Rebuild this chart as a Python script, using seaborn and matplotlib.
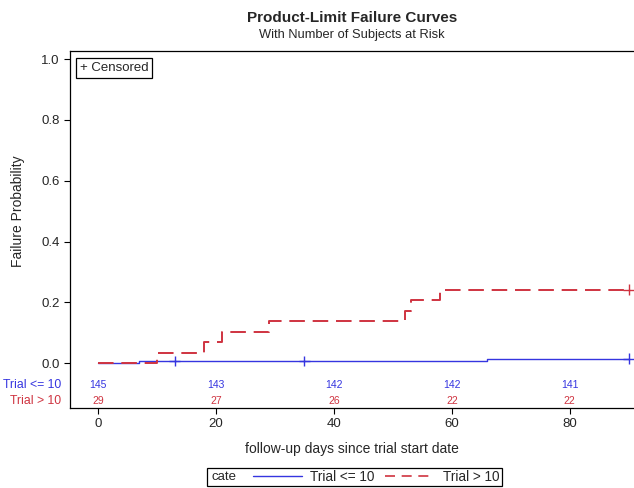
import numpy as np
import pandas as pd
import matplotlib
matplotlib.use("Agg")
import matplotlib.pyplot as plt
from matplotlib.lines import Line2D
from matplotlib.patches import Rectangle
import seaborn as sns

# ==========================================
# DATA
# ==========================================
GROUPS = ["Trial <= 10", "Trial > 10"]
COLORS = {"Trial <= 10": "#3535e0", "Trial > 10": "#cf3340"}

# kurva kegagalan (step function)
low_times = [0, 7, 66, 90]
low_fail = [0.0, 0.0069, 0.0139, 0.0139]
high_times = [0, 10, 18, 21, 29, 52, 53, 58, 90]
high_fail = [0.0, 0.0345, 0.069, 0.1034, 0.1379, 0.1724, 0.2069, 0.2414, 0.2414]

# titik censored
low_cens_t = [13, 35, 90]
low_cens_f = [0.0069, 0.0069, 0.0139]
high_cens_t = [90]
high_cens_f = [0.2414]

# tabel jumlah subjek at risk
risk_times = [0, 20, 40, 60, 80]
risk_low = [145, 143, 142, 142, 141]
risk_high = [29, 27, 26, 22, 22]

x_ticks = [0, 20, 40, 60, 80]
y_ticks = [0.0, 0.2, 0.4, 0.6, 0.8, 1.0]

curves = pd.concat([
    pd.DataFrame({"time": low_times, "fail": low_fail, "cate": GROUPS[0]}),
    pd.DataFrame({"time": high_times, "fail": high_fail, "cate": GROUPS[1]}),
])
cens = pd.concat([
    pd.DataFrame({"time": low_cens_t, "fail": low_cens_f, "cate": GROUPS[0]}),
    pd.DataFrame({"time": high_cens_t, "fail": high_cens_f, "cate": GROUPS[1]}),
])

# ==========================================
# PLOT
# ==========================================
sns.set_theme(style="ticks")
plt.rcParams["font.family"] = ["Liberation Sans", "DejaVu Sans"]

fig = plt.figure(figsize=(6.34, 4.88), dpi=100)
ax = fig.add_axes([70 / 634, 1 - 408 / 488, 564 / 634, (408 - 51) / 488])

sub = curves[curves["cate"] == GROUPS[0]]
sns.lineplot(data=sub, x="time", y="fail", ax=ax, color=COLORS[GROUPS[0]],
             drawstyle="steps-post", linewidth=1.0, estimator=None, legend=False)
sub = curves[curves["cate"] == GROUPS[1]]
sns.lineplot(data=sub, x="time", y="fail", ax=ax, color=COLORS[GROUPS[1]],
             drawstyle="steps-post", linewidth=1.4, estimator=None, legend=False,
             dashes=False)
ax.lines[-1].set_dashes([8, 4])

sns.scatterplot(data=cens, x="time", y="fail", hue="cate", palette=COLORS,
                marker="+", s=60, linewidth=1.0, ax=ax, legend=False, zorder=5)

# tabel at risk di dalam axes
for t, n1, n2 in zip(risk_times, risk_low, risk_high):
    ax.text(t, -0.071, str(n1), color=COLORS[GROUPS[0]], ha="center", va="center", fontsize=7.5)
    ax.text(t, -0.126, str(n2), color=COLORS[GROUPS[1]], ha="center", va="center", fontsize=7.5)
ax.text(-0.016, -0.071, GROUPS[0], color=COLORS[GROUPS[0]], ha="right", va="center",
        fontsize=8.8, transform=ax.get_yaxis_transform())
ax.text(-0.016, -0.126, GROUPS[1], color=COLORS[GROUPS[1]], ha="right", va="center",
        fontsize=8.8, transform=ax.get_yaxis_transform())

ax.set_xlim(-4.76, 90.9)
ax.set_ylim(-0.148, 1.027)
ax.set_xticks(x_ticks)
ax.set_yticks(y_ticks)
ax.set_yticklabels([f"{v:.1f}" for v in y_ticks])
ax.tick_params(labelsize=9.5, length=4, width=0.8, color="black")
ax.set_xlabel("follow-up days since trial start date", fontsize=10, labelpad=8)
ax.set_ylabel("Failure Probability", fontsize=10)
ax.yaxis.set_label_coords(-0.08, 0.552)
for s in ["left", "top", "bottom"]:
    ax.spines[s].set_color("black")
    ax.spines[s].set_linewidth(0.9)
ax.spines["right"].set_visible(False)
ax.spines["top"].set_visible(True)

ax.text(0.017, 0.968, "+ Censored", transform=ax.transAxes, fontsize=9.5, ha="left", va="top",
        bbox=dict(boxstyle="square,pad=0.3", facecolor="white", edgecolor="black", linewidth=0.9))

# judul
fig.text(352 / 634, 1 - 18 / 488, "Product-Limit Failure Curves", ha="center", va="center",
         fontsize=11, fontweight="bold")
fig.text(352 / 634, 1 - 35 / 488, "With Number of Subjects at Risk", ha="center", va="center",
         fontsize=9.3)

# legenda bawah
fig.patches.append(Rectangle((207 / 634, 1 - 486 / 488), 295 / 634, 18 / 488,
                             transform=fig.transFigure, fill=False, edgecolor="black",
                             linewidth=0.9))
fig.text(212 / 634, 1 - 477 / 488, "cate", ha="left", va="center", fontsize=9.5)
handles = [Line2D([], [], color=COLORS[GROUPS[0]], linewidth=1.0),
           Line2D([], [], color=COLORS[GROUPS[1]], linewidth=1.2, dashes=[6, 4])]
fig.legend(handles, GROUPS, loc="center", bbox_to_anchor=(376 / 634, 1 - 477 / 488),
           ncol=2, frameon=False, fontsize=9.8, handlelength=3.6, handletextpad=0.6,
           columnspacing=0.8, borderpad=0)

fig.savefig("out.png", dpi=100)
